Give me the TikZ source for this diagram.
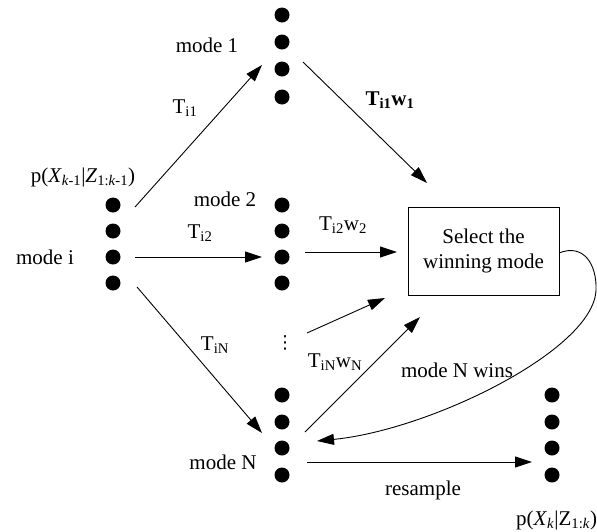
\documentclass[tikz,border=0pt]{standalone}
\usepackage{fontspec}
\setmainfont{Liberation Serif}
\newfontfamily\symfont{DejaVu Sans}
\usetikzlibrary{arrows.meta}
\begin{document}
\begin{tikzpicture}[x=1pt,y=-1pt,
  dot/.style={circle,fill=black,inner sep=0pt,minimum size=15pt},
  lbl/.style={inner sep=0pt,font=\fontsize{21}{24}\selectfont},
  arr/.style={line width=0.9pt,-{Triangle[length=17pt,width=11pt]}},
  selbox/.style={draw,line width=0.9pt,minimum width=151pt,minimum height=88pt,align=center,font=\fontsize{21}{25}\selectfont}]
\useasboundingbox (0,0) rectangle (597,531);
% dot columns
\foreach \n/\y in {1/205,2/231,3/257,4/283} {\node[dot] (i\n) at (113,\y) {};}
\foreach \n/\y in {1/15,2/42,3/69,4/97} {\node[dot] (a\n) at (282,\y) {};}
\foreach \n/\y in {1/205,2/231,3/257,4/283} {\node[dot] (b\n) at (282,\y) {};}
\foreach \n/\y in {1/395,2/422,3/448,4/475} {\node[dot] (n\n) at (282,\y) {};}
\foreach \n/\y in {1/395,2/422,3/448,4/475} {\node[dot] (r\n) at (552,\y) {};}
\node[inner sep=0pt,font=\symfont\fontsize{18}{18}\selectfont] (vd) at (285,343) {⋮};
% box
\node[selbox] (sel) at (483.5,251) {Select the\\winning mode};
% labels
\node[lbl] (lm1) at (207,45) {mode 1};
\node[lbl] (lm2) at (225,199) {mode 2};
\node[lbl] (lmi) at (45,257) {mode i};
\node[lbl] (lmN) at (223,462) {mode N};
\node[lbl] (lp1) at (83,177) {p(\textit{X}\textsubscript{\textit{k}-1}|\textit{Z}\textsubscript{1:\textit{k}-1})};
\node[lbl,anchor=west] (lp2) at (516,520) {p(\textit{X}\textsubscript{\textit{k}}|Z\textsubscript{1:\textit{k}})};
\node[lbl] (t1) at (185,108) {T\textsubscript{i1}};
\node[lbl] (t2) at (200,233) {T\textsubscript{i2}};
\node[lbl] (tN) at (215,345) {T\textsubscript{iN}};
\node[lbl] (w1) at (390,100) {\textbf{T\textsubscript{i1}w\textsubscript{1}}};
\node[lbl] (w2) at (343,225) {T\textsubscript{i2}w\textsubscript{2}};
\node[lbl] (wN) at (335,362) {T\textsubscript{iN}w\textsubscript{N}};
\node[lbl] (win) at (457,370) {mode N wins};
\node[lbl] (res) at (423,490) {resample};
% connector endpoints
\coordinate (s1) at (135,207); \coordinate (e1) at (262,65);
\coordinate (s2) at (135,257); \coordinate (e2) at (262,257);
\coordinate (s3) at (137,287); \coordinate (e3) at (262,433);
\coordinate (s4) at (303,62);  \coordinate (e4) at (427,183);
\coordinate (s5) at (305,252); \coordinate (e5) at (397,252);
\coordinate (s6) at (307,333); \coordinate (e6) at (385,298);
\coordinate (s7) at (305,432); \coordinate (e7) at (420,317);
\coordinate (s8) at (307,462); \coordinate (e8) at (532,462);
\coordinate (s9) at (559,253); \coordinate (m9) at (596,290); \coordinate (e9) at (317,441);
\draw[arr] (s1) -- (e1);
\draw[arr] (s2) -- (e2);
\draw[arr] (s3) -- (e3);
\draw[arr] (s4) -- (e4);
\draw[arr] (s5) -- (e5);
\draw[arr] (s6) -- (e6);
\draw[arr] (s7) -- (e7);
\draw[arr] (s8) -- (e8);
\draw[arr] (s9) .. controls (584,243) and (597,265) .. (m9) .. controls (594,350) and (430,430) .. (e9);
\end{tikzpicture}
\end{document}
